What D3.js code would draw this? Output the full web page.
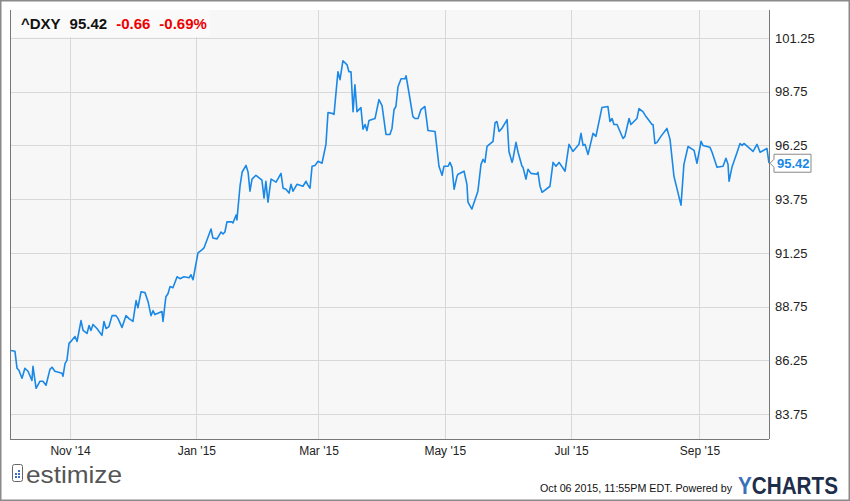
<!DOCTYPE html>
<html><head><meta charset="utf-8">
<script src="https://cdn.jsdelivr.net/npm/d3@7"></script>
<style>body{margin:0;background:#fff}svg{display:block;font-family:"Liberation Sans",Arial,sans-serif}</style>
</head><body><svg id="c" width="850" height="501"></svg>
<script>
// days since 2014-10-03
const days = [0.5,2.4,3.4,4.3,5.8,7.2,8.7,10.6,11.1,12.6,14.5,15.9,17.4,19.3,20.3,21.7,25.1,25.6,26.6,27.5,28.5,29.9,31.4,32.4,34.3,35.3,37.2,38.2,39.1,40.1,42.0,44.4,45.4,46.4,47.8,49.3,51.2,52.2,54.1,56.0,57.5,59.4,60.9,61.8,63.3,65.2,66.7,68.1,69.1,70.0,73.4,73.9,75.3,76.3,77.3,78.7,80.7,82.1,84.0,86.5,87.4,88.4,90.8,92.7,93.7,97.1,98.0,100.0,101.9,102.9,103.8,104.8,107.2,107.7,109.2,109.6,111.1,112.1,114.0,115.0,115.9,116.9,118.8,121.7,122.7,123.6,124.6,126.1,128.5,130.9,131.9,133.3,134.8,135.7,136.7,138.6,141.5,143.0,143.9,144.9,145.9,147.3,148.8,150.7,152.6,153.6,156.0,156.5,158.4,159.4,160.8,162.8,163.7,164.7,165.7,166.6,167.6,169.5,170.5,171.5,172.4,173.4,176.3,178.2,179.7,181.6,183.5,184.5,185.5,186.4,187.4,188.9,190.8,191.3,192.7,194.6,195.6,197.1,198.5,200.4,201.9,205.3,207.2,208.7,209.6,211.6,212.5,213.5,214.5,215.9,216.4,219.3,220.7,221.2,223.1,226.0,227.5,228.5,229.4,230.4,233.3,234.3,235.2,236.2,237.6,240.1,241.0,242.5,242.9,244.4,245.4,247.3,247.8,249.2,250.2,251.6,254.5,255.0,256.0,257.0,260.8,262.3,263.7,265.2,268.1,270.0,271.9,274.8,275.8,276.8,277.7,279.2,281.6,283.0,285.0,285.9,288.8,289.8,290.8,291.7,293.2,296.1,297.0,299.0,299.9,302.8,303.8,305.7,307.2,310.1,310.6,311.5,312.5,314.4,317.3,318.8,320.7,324.1,325.5,327.5,330.4,331.8,333.8,334.7,338.1,339.1,341.5,344.4,345.8,346.8,347.3,348.7,351.2,352.6,353.6,354.5,358.9,360.8,362.3,365.6,366.6];
const values = [86.71,86.67,85.88,85.79,85.42,85.88,85.74,85.32,85.97,84.95,85.28,85.28,85.09,85.83,85.93,85.74,85.65,85.51,86.11,86.25,87.04,87.18,87.36,87.13,88.10,87.64,87.50,87.87,87.64,87.92,87.73,87.41,88.06,87.73,87.82,88.33,88.33,88.19,87.78,88.33,88.19,88.06,89.03,88.70,89.44,89.40,88.98,88.33,88.56,88.38,88.52,88.06,89.21,89.35,89.68,89.63,90.14,90.05,90.14,90.09,90.23,90.00,91.25,91.39,91.48,92.36,91.94,91.90,92.22,92.13,92.22,92.69,92.69,92.64,93.01,92.78,94.35,95.00,95.32,95.00,94.12,94.68,94.86,94.63,93.80,94.58,93.61,94.68,94.54,94.95,94.26,94.21,94.03,94.44,94.12,94.44,94.35,94.58,94.40,94.26,95.28,95.32,95.51,95.42,96.30,97.78,97.73,97.69,99.68,99.31,100.19,100.00,99.68,99.68,97.82,99.07,97.82,98.01,97.00,97.22,96.94,97.41,97.50,98.38,98.10,96.76,96.76,97.04,97.92,98.06,98.98,99.35,99.35,99.49,98.70,97.59,97.50,97.50,97.92,98.06,96.94,96.90,95.28,94.86,95.28,95.28,95.46,95.23,94.21,94.81,94.91,95.05,94.44,93.61,93.29,94.12,95.37,95.60,95.46,96.20,96.44,97.31,97.36,96.90,97.04,97.45,95.97,95.46,95.60,96.39,95.93,95.28,95.23,94.68,95.14,94.95,94.91,95.00,94.35,94.07,94.35,95.46,95.28,95.46,95.05,96.30,95.97,96.30,96.81,96.25,96.30,95.83,96.81,96.67,97.59,98.01,98.06,97.36,97.50,97.22,97.22,96.57,96.67,97.50,97.22,97.50,97.96,97.82,97.59,97.22,97.22,96.34,96.39,96.67,97.04,96.53,94.81,93.47,95.37,96.20,96.02,95.42,96.44,96.25,96.16,95.93,95.23,95.28,95.65,95.37,94.58,95.23,95.93,96.34,96.25,96.34,95.97,96.30,95.93,96.11,95.42];
const yTicks = [83.75,86.25,88.75,91.25,93.75,96.25,98.75,101.25];
const xTickDates = ["2014-11-01","2015-01-01","2015-03-01","2015-05-01","2015-07-01","2015-09-01"];
const ticker = "^DXY", lastVal = "95.42", chg = "-0.66", chgPct = "-0.69%";
const stamp = "Oct 06 2015, 11:55PM EDT. Powered by";

const svg = d3.select("#c");
const L=10,R=769,T=10,B=439;
const start = new Date(2014,9,3);
const toDate = d => new Date(start.getTime()+d*864e5);
const x = d3.scaleTime().domain([start,toDate(366.6)]).range([L,R]);
const y = d3.scaleLinear().domain([82.59,102.55]).range([B,T]);

svg.append("rect").attr("x",0.5).attr("y",0.5).attr("width",849).attr("height",500).attr("fill","#fff").attr("stroke","#8a8a8a").attr("stroke-width",2);
svg.append("rect").attr("x",L).attr("y",T).attr("width",R-L).attr("height",B-T).attr("fill","#f7f7f7");
const g = svg.append("g");
g.selectAll(".hg").data(yTicks).join("line").attr("x1",L).attr("x2",R).attr("y1",d=>Math.round(y(d))+0.5).attr("y2",d=>Math.round(y(d))+0.5).attr("stroke","#d8d8d8");
const xd = xTickDates.map(s=>new Date(s+"T00:00:00"));
g.selectAll(".vg").data(xd).join("line").attr("y1",T).attr("y2",B).attr("x1",d=>Math.round(x(d))+0.5).attr("x2",d=>Math.round(x(d))+0.5).attr("stroke","#d8d8d8");
// header box
svg.append("rect").attr("x",L).attr("y",T).attr("width",200).attr("height",27).attr("fill","#fafafa");
const h = svg.append("text").attr("x",21).attr("y",29).attr("font-size",15).attr("font-weight","bold");
h.append("tspan").text(ticker).attr("fill","#111");
h.append("tspan").text(lastVal).attr("dx",9).attr("fill","#111");
h.append("tspan").text(chg).attr("dx",9).attr("fill","#e00");
h.append("tspan").text(chgPct).attr("dx",9).attr("fill","#e00");
// line
const line = d3.line().x((d,i)=>x(toDate(days[i]))).y(d=>y(d));
svg.append("path").datum(values).attr("d",line).attr("fill","none").attr("stroke","#1a88e6").attr("stroke-width",1.6).attr("stroke-linejoin","round");
// borders
svg.append("line").attr("x1",L+0.5).attr("x2",L+0.5).attr("y1",T).attr("y2",B).attr("stroke","#777");
svg.append("line").attr("x1",R+0.5).attr("x2",R+0.5).attr("y1",T).attr("y2",B).attr("stroke","#777");
svg.append("line").attr("x1",L).attr("x2",R).attr("y1",B+0.5).attr("y2",B+0.5).attr("stroke","#777");
// axes labels
const ya = svg.append("g").attr("transform",`translate(${R},0)`).call(d3.axisRight(y).tickValues(yTicks).tickSize(0).tickPadding(6).tickFormat(d3.format(".2f")));
ya.select(".domain").remove();
ya.selectAll("text").attr("font-size",13).attr("fill","#222").attr("font-family","Liberation Sans, Arial");
const xa = svg.append("g").attr("transform",`translate(0,${B})`).call(d3.axisBottom(x).tickValues(xd).tickSize(0).tickPadding(7).tickFormat(d3.timeFormat("%b '%y")));
xa.select(".domain").remove();
xa.selectAll("text").attr("font-size",12).attr("fill","#222").attr("font-family","Liberation Sans, Arial");
// last value label
const ly = y(values[values.length-1]);
svg.append("path").attr("d",`M${R+1},${ly} L${R+5},${ly-4} L${R+5},${ly-9} L${R+42},${ly-9} L${R+42},${ly+9} L${R+5},${ly+9} L${R+5},${ly+4} Z`).attr("fill","#fff").attr("stroke","#888");
svg.append("text").attr("x",R+8).attr("y",ly+5).attr("font-size",13).attr("font-weight","bold").attr("fill","#1a88e6").text(lastVal);
// footer
const lg = svg.append("g").attr("transform","translate(12,464)");
lg.append("rect").attr("x",0.5).attr("y",0.5).attr("width",10).attr("height",17).attr("rx",2).attr("fill","none").attr("stroke","#666");
[[3,12],[6,12],[6,9],[6,6],[3,9]].forEach(p=>lg.append("rect").attr("x",p[0]).attr("y",p[1]).attr("width",2).attr("height",2).attr("fill","#3a6fc4"));
svg.append("text").attr("x",26).attr("y",483).attr("font-size",24).attr("fill","#555").attr("textLength",96).attr("lengthAdjust","spacingAndGlyphs").text("estimize");
svg.append("text").attr("x",540).attr("y",492).attr("font-size",11.5).attr("fill","#111").attr("textLength",192).attr("lengthAdjust","spacingAndGlyphs").text(stamp);
const yc = svg.append("text").attr("x",738).attr("y",494).attr("font-size",23).attr("font-weight","bold").attr("textLength",100).attr("lengthAdjust","spacingAndGlyphs");
yc.append("tspan").text("Y").attr("fill","#3d6fb8");
yc.append("tspan").text("CHARTS").attr("fill","#1e2d4a");
</script></body></html>
